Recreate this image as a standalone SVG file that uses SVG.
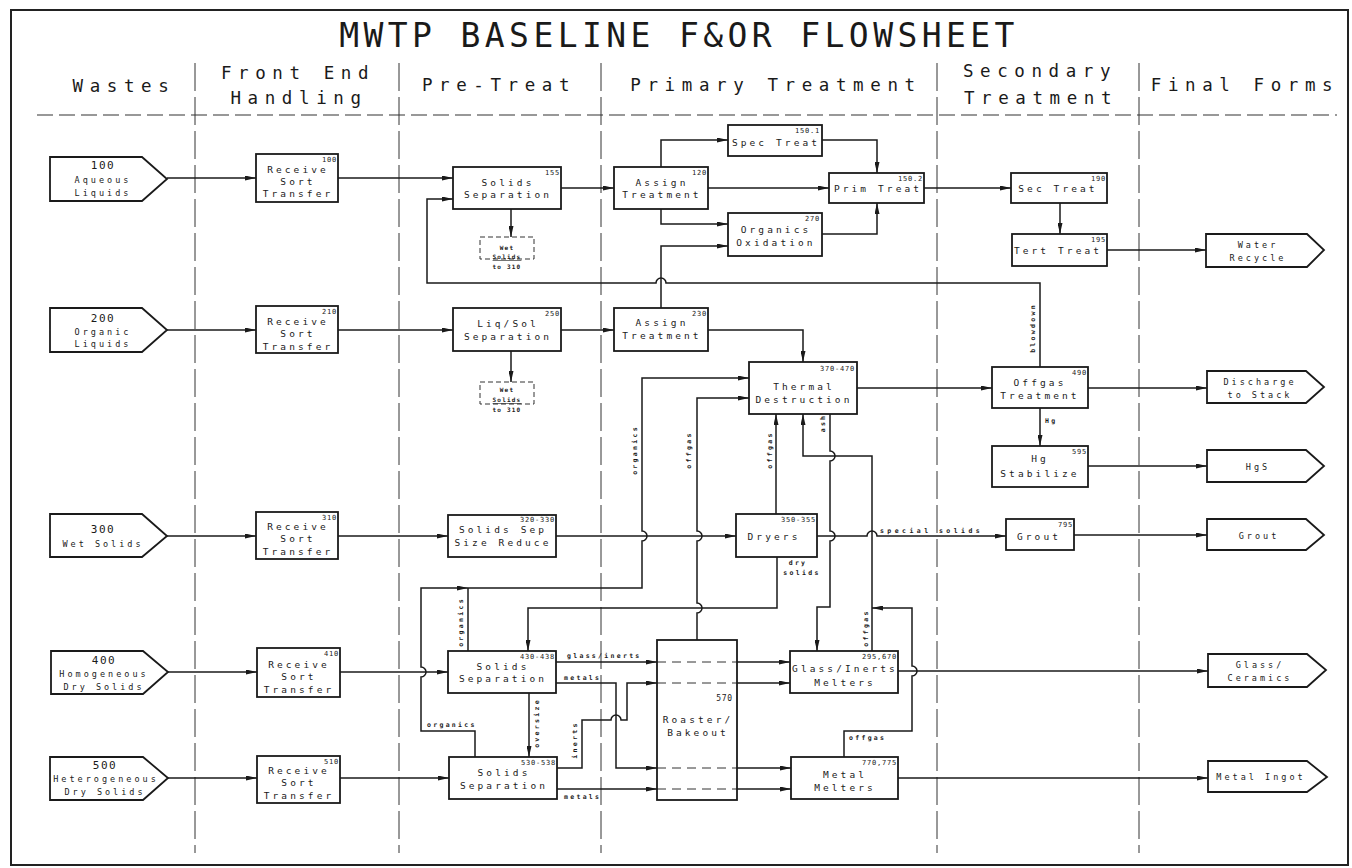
<svg xmlns="http://www.w3.org/2000/svg" width="1352" height="868" viewBox="0 0 1352 868">
<style>
.frame{fill:none;stroke:#222;stroke-width:2}
.div{stroke:#333;stroke-width:1;stroke-dasharray:28 6;fill:none}
.hdiv{stroke:#333;stroke-width:1.2;stroke-dasharray:16 6;fill:none}
.box{fill:#fff;stroke:#1a1a1a;stroke-width:1.8}
.ln{fill:none;stroke:#1a1a1a;stroke-width:1.5}
.arr{marker-end:url(#ah)}
.dash{fill:none;stroke:#333;stroke-width:1;stroke-dasharray:9 6}
.wbox{fill:none;stroke:#333;stroke-width:1;stroke-dasharray:5 3}
text{font-family:"DejaVu Sans Mono","Liberation Mono",monospace;fill:#1a1a1a}
.title{font-size:33px;letter-spacing:4.4px;text-anchor:middle}
.hd{font-size:17.5px;letter-spacing:6.6px;text-anchor:middle}
.t{font-size:9.5px;letter-spacing:3.1px;text-anchor:middle}
.it{font-size:8.5px;letter-spacing:3px;text-anchor:middle}
.inum{font-size:11px;letter-spacing:1.5px;text-anchor:middle}
.n{font-size:7px;letter-spacing:0.8px;text-anchor:end}
.lb{font-size:6.5px;letter-spacing:2.3px;font-weight:bold}
.vl{font-size:6.5px;letter-spacing:2.3px;font-weight:bold;text-anchor:middle}
.w{font-size:6px;letter-spacing:1.2px;text-anchor:middle;font-weight:bold}
</style>
<defs>
<marker id="ah" markerUnits="userSpaceOnUse" markerWidth="11" markerHeight="5" viewBox="0 0 11 5" refX="11" refY="2.5" orient="auto"><path d="M0,0 L11,2.5 L0,5 z" fill="#1a1a1a"/></marker>
</defs>
<rect width="1352" height="868" fill="#fff"/>
<rect class="frame" x="11" y="10" width="1337" height="855"/>

<g id="title">
<text class="title" x="679" y="47">MWTP BASELINE F&amp;OR FLOWSHEET</text>
</g>

<g id="lanes">
<line class="hdiv" x1="37" y1="115" x2="1337" y2="115"/>
<line class="div" x1="195" y1="63" x2="195" y2="853"/>
<line class="div" x1="399" y1="63" x2="399" y2="853"/>
<line class="div" x1="601" y1="63" x2="601" y2="853"/>
<line class="div" x1="937" y1="63" x2="937" y2="853"/>
<line class="div" x1="1139" y1="63" x2="1139" y2="853"/>
<text class="hd" x="124" y="92">Wastes</text>
<text class="hd" x="298" y="79">Front End</text>
<text class="hd" x="299" y="104">Handling</text>
<text class="hd" x="499" y="91">Pre-Treat</text>
<text class="hd" x="776" y="91">Primary Treatment</text>
<text class="hd" x="1040" y="77">Secondary</text>
<text class="hd" x="1041" y="104">Treatment</text>
<text class="hd" x="1245" y="91">Final Forms</text>
</g>

<g id="connectors">
<!-- row 1 -->
<path class="ln arr" d="M167,178 H256"/>
<path class="ln arr" d="M338,178 H453"/>
<path class="ln arr" d="M1040,367 V283 H666 A5,5 0 0 0 656,283 H427 V199 H453"/>
<path class="ln arr" d="M511,209 V237"/>
<path class="ln arr" d="M561,188 H614"/>
<path class="ln arr" d="M661,167 V140 H728"/>
<path class="ln arr" d="M708,188 H829"/>
<path class="ln arr" d="M822,140 H877 V173"/>
<path class="ln arr" d="M661,209 V224 H728"/>
<path class="ln arr" d="M661,308 V246 H728"/>
<path class="ln arr" d="M822,234 H877 V203"/>
<path class="ln arr" d="M924,188 H1011"/>
<path class="ln arr" d="M1060,203 V234"/>
<path class="ln arr" d="M1107,250 H1206"/>
<!-- row 2 -->
<path class="ln arr" d="M167,330 H256"/>
<path class="ln arr" d="M338,330 H453"/>
<path class="ln arr" d="M511,351 V382"/>
<path class="ln arr" d="M561,330 H614"/>
<path class="ln arr" d="M708,330 H803 V362"/>
<path class="ln arr" d="M857,388 H992"/>
<path class="ln arr" d="M1088,388 H1207"/>
<path class="ln arr" d="M1040,408 V446"/>
<path class="ln arr" d="M1088,466 H1207"/>
<!-- row 3 -->
<path class="ln arr" d="M167,536 H256"/>
<path class="ln arr" d="M338,536 H448"/>
<path class="ln arr" d="M556,536 H736"/>
<path class="ln arr" d="M817,536 H867 A5,5 0 0 1 877,536 H1006"/>
<path class="ln arr" d="M1074,535 H1207"/>
<path class="ln arr" d="M776,514 V414"/>
<!-- organics -->
<path class="ln arr" d="M475,757 V731 H421 V677 A5,5 0 0 0 421,667 V588 H468"/>
<path class="ln" d="M468,651 V588"/>
<path class="ln arr" d="M468,588 H642 V541 A5,5 0 0 0 642,531 V378 H749"/>
<!-- roaster offgas -->
<path class="ln arr" d="M697,640 V613 A5,5 0 0 0 697,603 V541 A5,5 0 0 0 697,531 V398 H749"/>
<!-- ash -->
<path class="ln arr" d="M830,414 V451 A5,5 0 0 1 830,461 V531 A5,5 0 0 1 830,541 V607 H817 V651"/>
<!-- melter offgas to thermal -->
<path class="ln arr" d="M872,651 V456 H803 V414"/>
<path class="ln arr" d="M844,757 V731 H912 V676 A5,5 0 0 0 912,666 V608 H872"/>
<!-- dry solids -->
<path class="ln arr" d="M777,557 V608 H528 V651"/>
<!-- row 4 -->
<path class="ln arr" d="M168,672 H257"/>
<path class="ln arr" d="M340,672 H448"/>
<path class="ln arr" d="M556,662 H657"/>
<path class="ln arr" d="M737,662 H790"/>
<path class="ln arr" d="M556,683 H616 V768 H657"/>
<path class="ln arr" d="M737,768 H791"/>
<path class="ln arr" d="M557,768 H582 V720 H611 A5,5 0 0 1 621,720 H627 V683 H657"/>
<path class="ln arr" d="M737,683 H790"/>
<path class="ln arr" d="M557,789 H657"/>
<path class="ln arr" d="M737,789 H791"/>
<path class="ln arr" d="M529,693 V757"/>
<path class="ln arr" d="M898,671 H1208"/>
<!-- row 5 -->
<path class="ln arr" d="M168,778 H257"/>
<path class="ln arr" d="M340,778 H449"/>
<path class="ln arr" d="M898,778 H1208"/>
<!-- roaster internal -->
<path class="dash" d="M657,662 H737 M657,683 H737 M657,768 H737 M657,789 H737"/>
<!-- labels -->
<text class="vl" transform="rotate(-90 1033 328)" x="1033" y="330">blowdown</text>
<text class="lb" x="1045" y="423">Hg</text>
<text class="vl" transform="rotate(-90 635 450)" x="635" y="452">organics</text>
<text class="vl" transform="rotate(-90 689 450)" x="689" y="452">offgas</text>
<text class="vl" transform="rotate(-90 770 450)" x="770" y="452">offgas</text>
<text class="vl" transform="rotate(-90 823 423)" x="823" y="425">ash</text>
<text class="lb" x="880" y="533" textLength="102">special solids</text>
<text class="vl" x="798" y="565">dry</text>
<text class="vl" x="802" y="575">solids</text>
<text class="vl" transform="rotate(-90 461 622)" x="461" y="624">organics</text>
<text class="lb" x="427" y="727">organics</text>
<text class="lb" x="567" y="658">glass/inerts</text>
<text class="lb" x="564" y="680">metals</text>
<text class="vl" transform="rotate(-90 537 723)" x="537" y="725">oversize</text>
<text class="vl" transform="rotate(-90 575 740)" x="575" y="742">inerts</text>
<text class="lb" x="564" y="799">metals</text>
<text class="vl" transform="rotate(-90 866 628)" x="866" y="630">offgas</text>
<text class="lb" x="849" y="740">offgas</text>
</g>

<!-- Inputs -->
<g id="in100">
<path class="box" d="M50,157 H142 L167,179 L142,201 H50 Z"/>
<text class="inum" x="103" y="169">100</text>
<text class="it" x="103" y="183">Aqueous</text>
<text class="it" x="103" y="196">Liquids</text>
</g>
<g id="in200">
<path class="box" d="M50,308 H142 L167,330 L142,352 H50 Z"/>
<text class="inum" x="103" y="322">200</text>
<text class="it" x="103" y="335">Organic</text>
<text class="it" x="103" y="347">Liquids</text>
</g>
<g id="in300">
<path class="box" d="M50,514 H142 L167,536 L142,557 H50 Z"/>
<text class="inum" x="103" y="533">300</text>
<text class="it" x="103" y="547">Wet Solids</text>
</g>
<g id="in400">
<path class="box" d="M51,651 H143 L168,672 L143,694 H51 Z"/>
<text class="inum" x="104" y="664">400</text>
<text class="it" x="104" y="677">Homogeneous</text>
<text class="it" x="104" y="690">Dry Solids</text>
</g>
<g id="in500">
<path class="box" d="M50,757 H143 L168,778 L143,800 H50 Z"/>
<text class="inum" x="105" y="769">500</text>
<text class="it" x="106" y="782">Heterogeneous</text>
<text class="it" x="105" y="795">Dry Solids</text>
</g>

<!-- Front end -->
<g id="r100">
<rect class="box" x="256" y="154" width="82" height="48"/>
<text class="n" x="337" y="162">100</text>
<text class="t" x="298" y="173">Receive</text>
<text class="t" x="298" y="185">Sort</text>
<text class="t" x="298" y="197">Transfer</text>
</g>
<g id="r210">
<rect class="box" x="256" y="306" width="82" height="47"/>
<text class="n" x="337" y="314">210</text>
<text class="t" x="298" y="325">Receive</text>
<text class="t" x="298" y="337">Sort</text>
<text class="t" x="298" y="350">Transfer</text>
</g>
<g id="r310">
<rect class="box" x="256" y="512" width="82" height="47"/>
<text class="n" x="337" y="520">310</text>
<text class="t" x="298" y="530">Receive</text>
<text class="t" x="298" y="542">Sort</text>
<text class="t" x="298" y="555">Transfer</text>
</g>
<g id="r410">
<rect class="box" x="257" y="648" width="83" height="49"/>
<text class="n" x="339" y="656">410</text>
<text class="t" x="299" y="668">Receive</text>
<text class="t" x="299" y="680">Sort</text>
<text class="t" x="299" y="693">Transfer</text>
</g>
<g id="r510">
<rect class="box" x="257" y="756" width="83" height="47"/>
<text class="n" x="339" y="764">510</text>
<text class="t" x="299" y="774">Receive</text>
<text class="t" x="299" y="786">Sort</text>
<text class="t" x="299" y="799">Transfer</text>
</g>

<!-- Pre-treat -->
<g id="ss155">
<rect class="box" x="453" y="167" width="108" height="42"/>
<text class="n" x="560" y="175">155</text>
<text class="t" x="508" y="186">Solids</text>
<text class="t" x="508" y="198">Separation</text>
</g>
<g id="wet1">
<rect class="wbox" x="480" y="237" width="54" height="22"/>
<text class="w" x="507" y="250">Wet</text>
<text class="w" x="507" y="259" text-decoration="underline">Solids</text>
<text class="w" x="507" y="269">to 310</text>
</g>
<g id="ls250">
<rect class="box" x="453" y="308" width="108" height="43"/>
<text class="n" x="560" y="316">250</text>
<text class="t" x="508" y="327">Liq/Sol</text>
<text class="t" x="508" y="340">Separation</text>
</g>
<g id="wet2">
<rect class="wbox" x="480" y="382" width="54" height="22"/>
<text class="w" x="507" y="392">Wet</text>
<text class="w" x="507" y="402" text-decoration="underline">Solids</text>
<text class="w" x="507" y="412">to 310</text>
</g>
<g id="ssr">
<rect class="box" x="448" y="515" width="108" height="42"/>
<text class="n" x="555" y="522">320-330</text>
<text class="t" x="503" y="533">Solids Sep</text>
<text class="t" x="503" y="546">Size Reduce</text>
</g>
<g id="ss430">
<rect class="box" x="448" y="651" width="108" height="42"/>
<text class="n" x="555" y="659">430-438</text>
<text class="t" x="503" y="670">Solids</text>
<text class="t" x="503" y="682">Separation</text>
</g>
<g id="ss530">
<rect class="box" x="449" y="757" width="108" height="42"/>
<text class="n" x="556" y="765">530-538</text>
<text class="t" x="504" y="776">Solids</text>
<text class="t" x="504" y="789">Separation</text>
</g>

<!-- Primary -->
<g id="at120">
<rect class="box" x="614" y="167" width="94" height="42"/>
<text class="n" x="707" y="175">120</text>
<text class="t" x="662" y="186">Assign</text>
<text class="t" x="662" y="198">Treatment</text>
</g>
<g id="spec">
<rect class="box" x="728" y="125" width="94" height="31"/>
<text class="n" x="820" y="133">150.1</text>
<text class="t" x="776" y="146">Spec Treat</text>
</g>
<g id="prim">
<rect class="box" x="829" y="173" width="95" height="30"/>
<text class="n" x="923" y="181">150.2</text>
<text class="t" x="878" y="192">Prim Treat</text>
</g>
<g id="org">
<rect class="box" x="728" y="213" width="94" height="43"/>
<text class="n" x="820" y="221">270</text>
<text class="t" x="776" y="233">Organics</text>
<text class="t" x="776" y="246">Oxidation</text>
</g>
<g id="at230">
<rect class="box" x="614" y="308" width="94" height="43"/>
<text class="n" x="707" y="316">230</text>
<text class="t" x="662" y="326">Assign</text>
<text class="t" x="662" y="339">Treatment</text>
</g>
<g id="td">
<rect class="box" x="749" y="362" width="108" height="52"/>
<text class="n" x="855" y="371">370-470</text>
<text class="t" x="804" y="390">Thermal</text>
<text class="t" x="804" y="403">Destruction</text>
</g>
<g id="dry">
<rect class="box" x="736" y="514" width="81" height="43"/>
<text class="n" x="816" y="522">350-355</text>
<text class="t" x="774" y="540">Dryers</text>
</g>
<g id="roaster">
<rect x="657" y="640" width="80" height="160" fill="none" stroke="#1a1a1a" stroke-width="1.8"/>
<text class="n" x="733" y="701" style="font-size:8px">570</text>
<text class="t" x="698" y="723">Roaster/</text>
<text class="t" x="698" y="736">Bakeout</text>
</g>
<g id="gim">
<rect class="box" x="790" y="651" width="108" height="42"/>
<text class="n" x="897" y="659">295,670</text>
<text class="t" x="845" y="672">Glass/Inerts</text>
<text class="t" x="845" y="686">Melters</text>
</g>
<g id="mm">
<rect class="box" x="791" y="757" width="107" height="42"/>
<text class="n" x="897" y="765">770,775</text>
<text class="t" x="845" y="778">Metal</text>
<text class="t" x="845" y="791">Melters</text>
</g>

<!-- Secondary -->
<g id="sec">
<rect class="box" x="1011" y="173" width="96" height="30"/>
<text class="n" x="1106" y="181">190</text>
<text class="t" x="1058" y="192">Sec Treat</text>
</g>
<g id="tert">
<rect class="box" x="1012" y="234" width="95" height="32"/>
<text class="n" x="1106" y="242">195</text>
<text class="t" x="1058" y="254">Tert Treat</text>
</g>
<g id="off">
<rect class="box" x="992" y="367" width="96" height="41"/>
<text class="n" x="1087" y="375">490</text>
<text class="t" x="1040" y="386">Offgas</text>
<text class="t" x="1040" y="399">Treatment</text>
</g>
<g id="hg">
<rect class="box" x="992" y="446" width="96" height="41"/>
<text class="n" x="1087" y="454">595</text>
<text class="t" x="1040" y="462">Hg</text>
<text class="t" x="1040" y="477">Stabilize</text>
</g>
<g id="grout">
<rect class="box" x="1006" y="519" width="68" height="31"/>
<text class="n" x="1073" y="527">795</text>
<text class="t" x="1039" y="540">Grout</text>
</g>

<!-- Final forms -->
<g id="out-water">
<path class="box" d="M1206,234 H1307 L1324,250 L1307,267 H1206 Z"/>
<text class="it" x="1258" y="248">Water</text>
<text class="it" x="1258" y="261">Recycle</text>
</g>
<g id="out-stack">
<path class="box" d="M1207,371 H1306 L1324,387 L1306,403 H1207 Z"/>
<text class="it" x="1260" y="385">Discharge</text>
<text class="it" x="1260" y="398">to Stack</text>
</g>
<g id="out-hgs">
<path class="box" d="M1207,450 H1306 L1324,466 L1306,482 H1207 Z"/>
<text class="it" x="1258" y="470">HgS</text>
</g>
<g id="out-grout">
<path class="box" d="M1207,519 H1306 L1324,535 L1306,550 H1207 Z"/>
<text class="it" x="1259" y="539">Grout</text>
</g>
<g id="out-glass">
<path class="box" d="M1208,654 H1307 L1326,670 L1307,687 H1208 Z"/>
<text class="it" x="1260" y="668">Glass/</text>
<text class="it" x="1260" y="681">Ceramics</text>
</g>
<g id="out-metal">
<path class="box" d="M1208,761 H1307 L1327,777 L1307,792 H1208 Z"/>
<text class="it" x="1261" y="780">Metal Ingot</text>
</g>
</svg>
